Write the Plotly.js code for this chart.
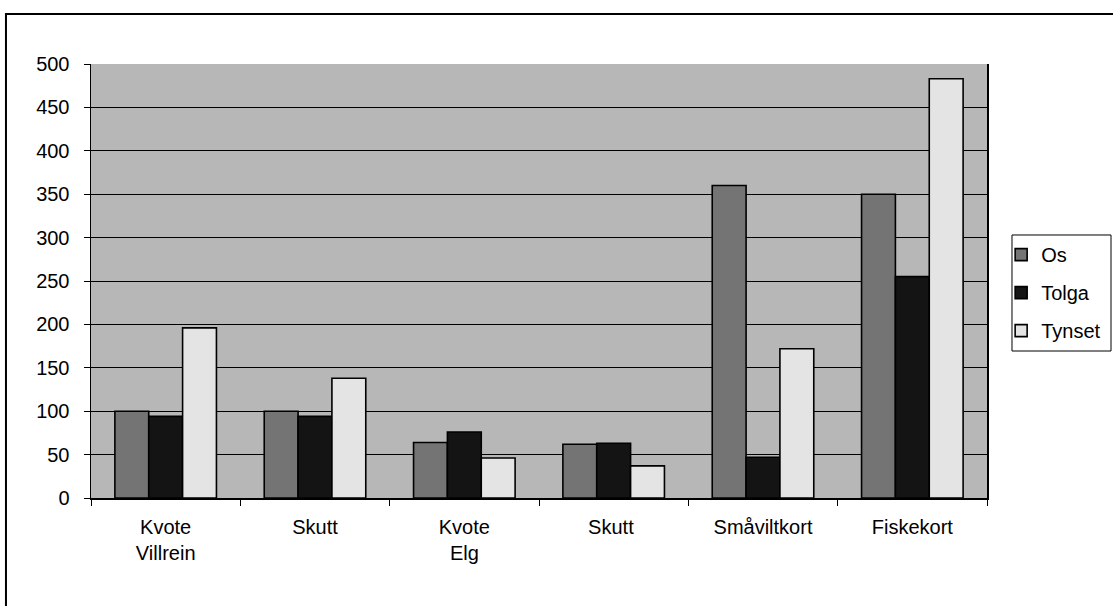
<!DOCTYPE html>
<html>
<head>
<meta charset="utf-8">
<script src="https://cdn.plot.ly/plotly-3.0.1.min.js"></script>
<style>
  html, body { margin: 0; padding: 0; background: #ffffff; }
  #chart { width: 1113px; height: 606px; }
</style>
</head>
<body>
<div id="chart"></div>
<script>
const categories = ["Kvote<br>Villrein", "Skutt", "Kvote<br>Elg", "Skutt ", "Småviltkort", "Fiskekort"];
const seriesNames = ["Os", "Tolga", "Tynset"];
const osValues = [100, 100, 64, 62, 360, 350];
const tolgaValues = [94, 94, 76, 63, 47, 255];
const tynsetValues = [196, 138, 46, 37, 172, 483];
const yTicks = [0, 50, 100, 150, 200, 250, 300, 350, 400, 450, 500];

const colors = ["#747474", "#141414", "#e4e4e4"];
const values = [osValues, tolgaValues, tynsetValues];

const traces = seriesNames.map((name, i) => ({
  type: "bar",
  name: name,
  x: categories,
  y: values[i],
  legendgroup: "g" + i,
  marker: {
    color: colors[i],
    line: { color: "#000000", width: 1.6 }
  },
  hoverinfo: "x+y+name"
}));

const font = { family: "Liberation Sans, Arial, Helvetica, sans-serif", size: 20, color: "#000000" };

const layout = {
  width: 1113,
  height: 606,
  margin: { l: 91, r: 126, t: 64, b: 108, autoexpand: false },
  paper_bgcolor: "#ffffff",
  plot_bgcolor: "#b7b7b7",
  font: font,
  barmode: "group",
  bargap: 0.32,
  bargroupgap: 0,
  showlegend: true,
  legend: {
    xref: "container", yref: "container",
    x: 0.8995, xanchor: "left",
    y: 0.612, yanchor: "top",
    bgcolor: "rgba(0,0,0,0)",
    borderwidth: 0,
    font: { family: font.family, size: 20, color: "#000000" },
    tracegroupgap: 9,
    itemwidth: 30
  },
  xaxis: {
    type: "category",
    showgrid: false,
    showline: true,
    linecolor: "#000000",
    linewidth: 1.5,
    ticks: "outside",
    tickson: "boundaries",
    ticklen: 6,
    tickcolor: "#000000",
    tickfont: font,
    ticklabelstandoff: 10,
    mirror: false
  },
  yaxis: {
    range: [0, 500],
    tickvals: yTicks,
    ticktext: yTicks.map(String),
    showgrid: true,
    gridcolor: "#000000",
    gridwidth: 1,
    zeroline: false,
    showline: true,
    linecolor: "#000000",
    linewidth: 1.5,
    ticks: "outside",
    ticklen: 6,
    tickcolor: "#000000",
    tickfont: font,
    ticklabelstandoff: 10,
    mirror: true
  },
  shapes: [
    {
      type: "path",
      xref: "paper", yref: "paper",
      path: "M -0.0949 -0.26 L -0.0949 1.1152 L 1.16 1.1152",
      line: { color: "#000000", width: 2 }
    },
    {
      type: "rect",
      xref: "paper", yref: "paper",
      x0: 1.0279, x1: 1.1384, y0: 0.3387, y1: 0.606,
      line: { color: "#000000", width: 1 },
      fillcolor: "rgba(0,0,0,0)"
    }
  ]
};

Plotly.newPlot("chart", traces, layout, { displayModeBar: false, staticPlot: true });
</script>
</body>
</html>
